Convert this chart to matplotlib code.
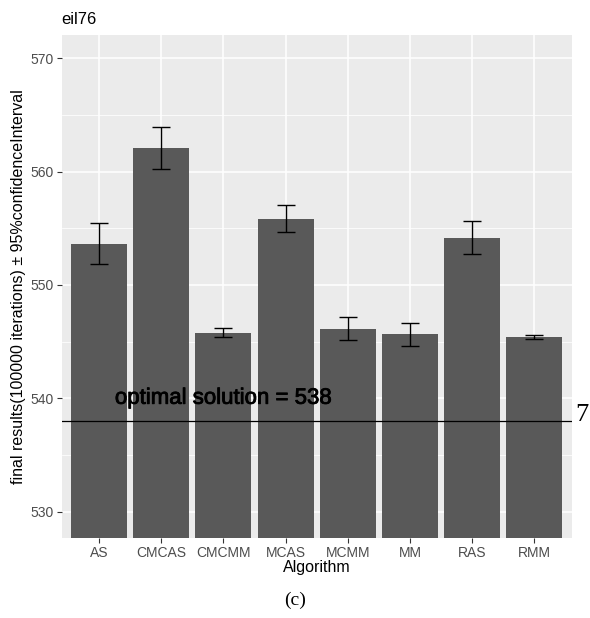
import matplotlib
matplotlib.use("Agg")
import matplotlib.pyplot as plt
import matplotlib.patheffects as pe
import numpy as np

# data
algorithms = ["AS", "CMCAS", "CMCMM", "MCAS", "MCMM", "MM", "RAS", "RMM"]
means = [553.65, 562.05, 545.8, 555.85, 546.15, 545.65, 554.15, 545.4]
ci95 = [1.8, 1.85, 0.4, 1.2, 1.05, 1.0, 1.45, 0.2]
optimal = 538
y_ticks = [530, 540, 550, 560, 570]
y_minor = [535, 545, 555, 565]

plt.rcParams["font.family"] = ["Liberation Sans", "DejaVu Sans"]

fig = plt.figure(figsize=(5.9, 6.18), dpi=100)
ax = fig.add_axes([61.7 / 590, 1 - 537.7 / 618, 510 / 590, (537.7 - 35) / 618])

x = np.arange(1, len(algorithms) + 1)
ax.set_facecolor("#EBEBEB")
for s in ax.spines.values():
    s.set_visible(False)

# ggplot-like grid
for v in y_minor:
    ax.axhline(v, color="white", lw=0.55, zorder=0)
for v in y_ticks:
    ax.axhline(v, color="white", lw=1.1, zorder=0)
for xi in x:
    ax.axvline(xi, color="white", lw=1.1, zorder=0)

ax.bar(x, means, width=0.9, bottom=0, color="#595959", zorder=2)
ax.errorbar(x, means, yerr=ci95, fmt="none", ecolor="black", elinewidth=1.0,
            capsize=6.3, capthick=1.0, zorder=3)

ax.axhline(optimal, color="black", lw=0.9, zorder=4)
ax.text(3, 540, f"optimal solution = {optimal}", ha="center", va="center",
        fontsize=16, color="black", zorder=5,
        path_effects=[pe.withStroke(linewidth=0.6, foreground="black")])

ax.set_xlim(0.4, 8.6)
ax.set_ylim(527.7, 572.05)
ax.set_xticks(x)
ax.set_xticklabels(algorithms)
ax.set_yticks(y_ticks)
ax.tick_params(axis="both", length=3.7, width=0.8, color="#333333",
               labelcolor="#4D4D4D", labelsize=10, pad=2)

ax.set_xlabel("Algorithm", fontsize=11.5, labelpad=0)
ax.set_ylabel("final results(100000 iterations) \u00b1 95%confidenceInterval",
              fontsize=11.5, labelpad=3)
ax.set_title("eil76", loc="left", fontsize=12, pad=8)

fig.text(582 / 590, 1 - 415 / 618, "7", family="Liberation Serif",
         fontsize=19, ha="center", va="center")
fig.text(295 / 590, 1 - 600 / 618, "(c)", family="Liberation Serif",
         fontsize=14, ha="center", va="center")

fig.savefig("out.png", dpi=100)
